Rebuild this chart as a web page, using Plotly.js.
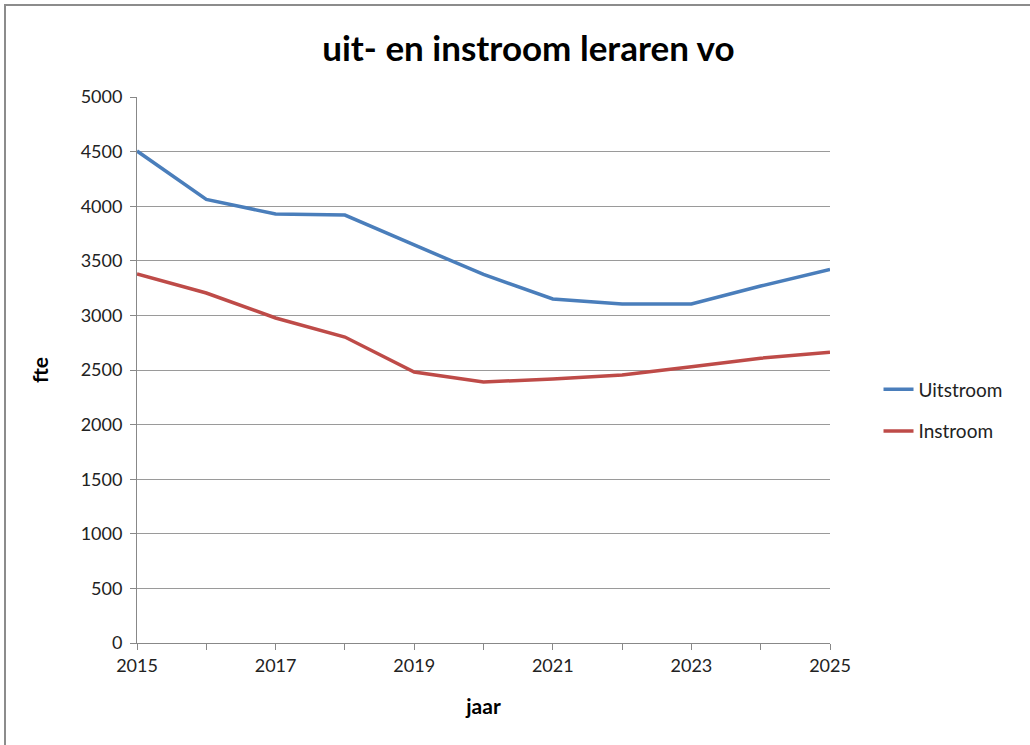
<!DOCTYPE html>
<html>
<head>
<meta charset="utf-8">
<script src="https://cdn.plot.ly/plotly-3.0.1.min.js"></script>
<style>
  body { margin: 0; background: #fff; }
  #frame { position: absolute; left: 4px; top: 4px; width: 1040px; height: 760px; border: 2px solid #8c8c8c; box-sizing: border-box; }
  #chart { position: absolute; left: 0; top: 0; width: 1030px; height: 745px; }
</style>
</head>
<body>
<div id="frame"></div>
<div id="chart"></div>
<script>
const years = [2015, 2016, 2017, 2018, 2019, 2020, 2021, 2022, 2023, 2024, 2025];
const uitstroom = [4505, 4062, 3929, 3919, 3645, 3375, 3150, 3104, 3104, 3269, 3420];
const instroom = [3379, 3205, 2976, 2802, 2482, 2390, 2418, 2454, 2530, 2608, 2662];
const yTicks = [0, 500, 1000, 1500, 2000, 2500, 3000, 3500, 4000, 4500, 5000];
const xTickLabels = [2015, 2017, 2019, 2021, 2023, 2025];

const font = "Lato, 'Open Sans', sans-serif";

const traces = [
    {
        x: years, y: uitstroom, name: 'Uitstroom', mode: 'lines', legendgroup: 'u',
        line: { color: '#4a7ebb', width: 3.5 }
    },
    {
        x: years, y: instroom, name: 'Instroom', mode: 'lines', legendgroup: 'i',
        line: { color: '#be4b48', width: 3.5 }
    }
];

const layout = {
    width: 1030, height: 745,
    margin: { l: 137, r: 200, t: 97, b: 102 },
    paper_bgcolor: 'rgba(0,0,0,0)',
    plot_bgcolor: 'rgba(0,0,0,0)',
    font: { family: font, size: 18, color: '#222' },
    title: {
        text: '<b>uit- en instroom leraren vo</b>',
        x: 0.513, xanchor: 'center', y: 0.935, yanchor: 'middle',
        font: { size: 35, color: '#000', family: font }
    },
    xaxis: {
        range: [2015, 2025],
        tickvals: xTickLabels,
        ticktext: xTickLabels.map(String),
        showgrid: false, zeroline: false,
        showline: true, linecolor: '#888', linewidth: 1,
        ticks: 'outside', ticklen: 6, tickcolor: '#888',
        minor: { tickvals: years, ticks: 'outside', ticklen: 6, tickcolor: '#888' },
        title: { text: '<b>jaar</b>', font: { size: 21, color: '#000' }, standoff: 24 }
    },
    yaxis: {
        range: [0, 5000],
        tickvals: yTicks,
        showgrid: true, gridcolor: '#9a9a9a', gridwidth: 1,
        zeroline: false,
        showline: true, linecolor: '#888', linewidth: 1,
        ticks: 'outside', ticklen: 6, tickcolor: '#888',
        ticklabelstandoff: 4,
        title: { text: '<b>fte</b>', font: { size: 21, color: '#000' }, standoff: 26 }
    },
    showlegend: true,
    legend: {
        x: 1.07, xanchor: 'left', y: 0.426, yanchor: 'middle',
        font: { size: 19, color: '#222' },
        traceorder: 'grouped',
        tracegroupgap: 14,
        bgcolor: 'rgba(0,0,0,0)'
    }
};

Plotly.newPlot('chart', traces, layout, { displayModeBar: false, staticPlot: true });
</script>
</body>
</html>
